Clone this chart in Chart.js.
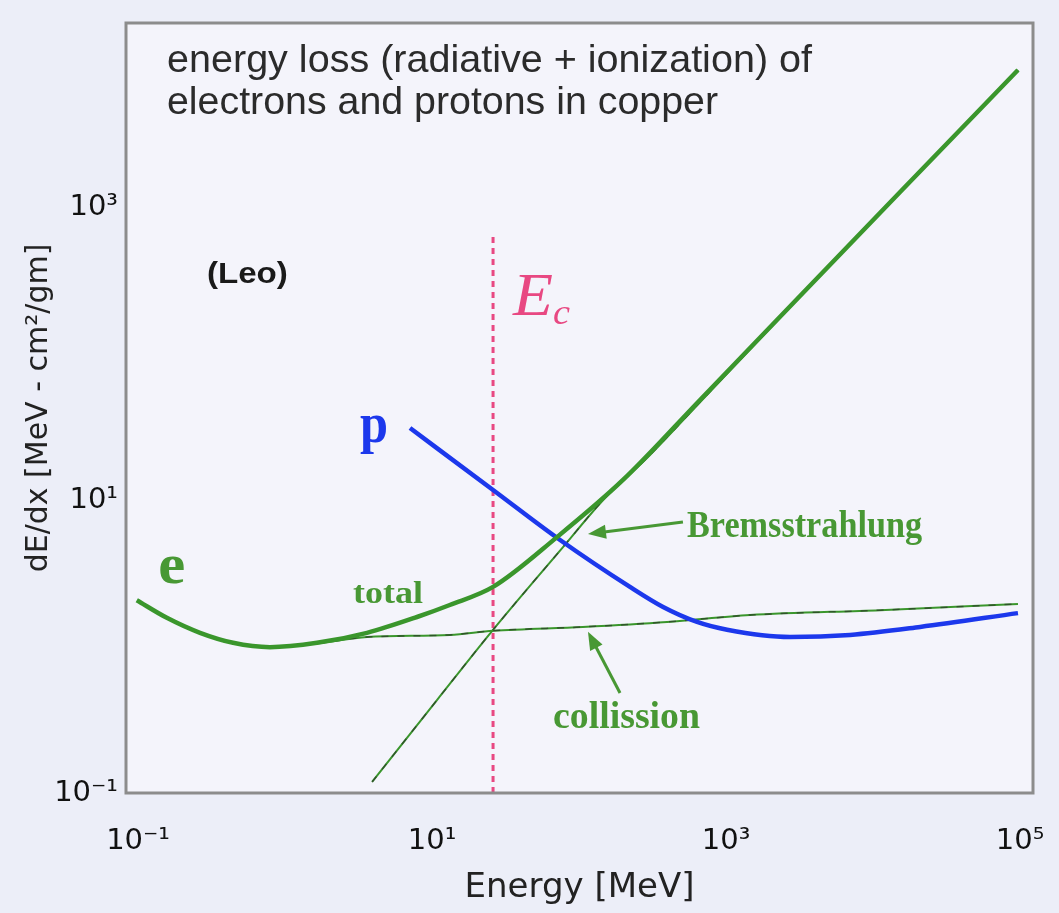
<!DOCTYPE html>
<html>
<head>
<meta charset="utf-8">
<script src="https://cdn.jsdelivr.net/npm/chart.js@4.4.1/dist/chart.umd.min.js"></script>
<style>
  body { margin: 0; background: #eceef8; }
  canvas { display: block; }
</style>
</head>
<body>
<canvas id="lossChart" width="1059" height="913"></canvas>
<script>
// energy values in MeV, dE/dx in MeV cm2/g
const eTotalE = [0.098, 0.157, 0.264, 0.443, 0.79, 1.65, 3.61, 7.9, 13.2, 26, 70.8, 199, 665, 3185, 15280, 96800];
const eTotal = [2.07, 1.57, 1.24, 1.06, 0.99, 1.06, 1.24, 1.59, 1.92, 2.55, 5.58, 13.7, 48.2, 247, 1265, 8610];

const collE = [0.79, 1.65, 3.61, 13.2, 26, 106, 397, 1455, 11170, 96800];
const coll = [0.99, 1.05, 1.16, 1.20, 1.28, 1.36, 1.47, 1.64, 1.77, 1.95];

const bremE = [3.91, 10.8, 26, 77.8, 146, 304, 665, 3185, 15280, 96800];
const brem = [0.119, 0.431, 1.30, 4.77, 10.0, 20.3, 46.5, 245, 1263, 8600];

const protE = [7.08, 26, 74.3, 222, 373, 635, 1016, 2723, 6980, 20900, 96800];
const prot = [31.0, 11.7, 5.33, 2.55, 1.86, 1.47, 1.30, 1.16, 1.20, 1.36, 1.69];

// critical energy line
const ecEnergy = 26;
const ecRange = [0.1, 675];

const xTicks = [0.1, 10, 1000, 100000];
const xTickLabels = ['10⁻¹', '10¹', '10³', '10⁵'];
const yTicks = [0.1, 10, 1000];
const yTickLabels = ['10⁻¹', '10¹', '10³'];

const green = 'rgb(58, 150, 44)';
const textGreen = 'rgb(72, 152, 52)';
const blue = 'rgb(28, 56, 236)';
const pink = 'rgb(232, 72, 130)';

function pts(xs, ys) {
    return xs.map((x, i) => ({ x: x, y: ys[i] }));
}

// labels placed in data coords
const notes = [
    { text: '(Leo)', x: 0.294, y: 303, font: 'bold 30px "Liberation Sans"', color: '#1a1a1a', width: 81 },
    { text: 'p', x: 3.24, y: 24.9, font: 'bold 56px "Liberation Serif"', color: blue, width: 28 },
    { text: 'e', x: 0.137, y: 2.71, font: 'bold 56px "Liberation Serif"', color: textGreen, width: 27 },
    { text: 'total', x: 2.90, y: 1.98, font: 'bold 32px "Liberation Serif"', color: textGreen, width: 70 },
    { text: 'Bremsstrahlung', x: 543, y: 5.58, font: 'bold 38px "Liberation Serif"', color: textGreen, width: 235 },
    { text: 'collission', x: 66.5, y: 0.278, font: 'bold 38px "Liberation Serif"', color: textGreen, width: 147 },
    { text: 'E', x: 35.6, y: 183, font: 'italic 62px "Liberation Serif"', color: pink, width: 40 },
    { text: 'c', x: 66.5, y: 159, font: 'italic 36px "Liberation Serif"', color: pink, width: 17 }
];

const arrows = [
    { from: [509, 7.08], to: [115, 5.86] },
    { from: [190, 0.482], to: [115, 1.26] }
];

const titleLines = ['energy loss (radiative + ionization) of', 'electrons and protons in copper'];

function drawText(ctx, n, x, y) {
    ctx.save();
    ctx.font = n.font;
    ctx.fillStyle = n.color;
    ctx.textAlign = 'left';
    ctx.textBaseline = 'alphabetic';
    const w = ctx.measureText(n.text).width;
    const sx = n.width ? n.width / w : 1;
    ctx.translate(x, y);
    ctx.scale(sx, 1);
    ctx.fillText(n.text, 0, 0);
    ctx.restore();
}

const framePlugin = {
    id: 'frame',
    beforeDraw(chart) {
        const { ctx, chartArea: a } = chart;
        ctx.save();
        ctx.fillStyle = '#f4f4fb';
        ctx.fillRect(a.left, a.top, a.right - a.left, a.bottom - a.top);
        ctx.restore();
    },
    afterDatasetsDraw(chart) {
        const { ctx, chartArea: a, scales } = chart;
        // arrows
        ctx.save();
        ctx.strokeStyle = textGreen;
        ctx.fillStyle = textGreen;
        ctx.lineWidth = 3;
        arrows.forEach(ar => {
            const x1 = scales.x.getPixelForValue(ar.from[0]);
            const y1 = scales.y.getPixelForValue(ar.from[1]);
            const x2 = scales.x.getPixelForValue(ar.to[0]);
            const y2 = scales.y.getPixelForValue(ar.to[1]);
            const ang = Math.atan2(y2 - y1, x2 - x1);
            const hl = 18, hw = 7;
            ctx.beginPath();
            ctx.moveTo(x1, y1);
            ctx.lineTo(x2 - Math.cos(ang) * hl * 0.8, y2 - Math.sin(ang) * hl * 0.8);
            ctx.stroke();
            ctx.beginPath();
            ctx.moveTo(x2, y2);
            ctx.lineTo(x2 - Math.cos(ang) * hl - Math.sin(ang) * hw, y2 - Math.sin(ang) * hl + Math.cos(ang) * hw);
            ctx.lineTo(x2 - Math.cos(ang) * hl + Math.sin(ang) * hw, y2 - Math.sin(ang) * hl - Math.cos(ang) * hw);
            ctx.closePath();
            ctx.fill();
        });
        ctx.restore();

        notes.forEach(n => {
            drawText(ctx, n, scales.x.getPixelForValue(n.x), scales.y.getPixelForValue(n.y));
        });

        // title text in upper left of plot box
        drawText(ctx, { text: titleLines[0], font: '39px "Liberation Sans"', color: '#2b2b2b', width: 645 }, a.left + 41, a.top + 49);
        drawText(ctx, { text: titleLines[1], font: '39px "Liberation Sans"', color: '#2b2b2b', width: 551 }, a.left + 41, a.top + 91);

        // box
        ctx.save();
        ctx.strokeStyle = '#8c8c8c';
        ctx.lineWidth = 3;
        ctx.strokeRect(a.left, a.top, a.right - a.left, a.bottom - a.top);
        ctx.restore();
    }
};

const ctx = document.getElementById('lossChart').getContext('2d');
const lossChart = new Chart(ctx, {
    type: 'line',
    data: {
        datasets: [
            {
                label: 'electron total',
                data: pts(eTotalE, eTotal),
                borderColor: green,
                borderWidth: 4.5,
                cubicInterpolationMode: 'monotone'
            },
            {
                label: 'proton',
                data: pts(protE, prot),
                borderColor: blue,
                borderWidth: 4.5,
                cubicInterpolationMode: 'monotone'
            },
            {
                label: 'collision dash',
                data: pts(collE, coll),
                borderColor: 'rgba(40, 40, 40, 0.6)',
                borderWidth: 1.5,
                borderDash: [7, 9],
                cubicInterpolationMode: 'monotone'
            },
            {
                label: 'collision',
                data: pts(collE, coll),
                borderColor: green,
                borderWidth: 2,
                cubicInterpolationMode: 'monotone'
            },
            {
                label: 'bremsstrahlung dash',
                data: pts(bremE, brem),
                borderColor: 'rgba(40, 40, 40, 0.6)',
                borderWidth: 1.5,
                borderDash: [7, 9],
                cubicInterpolationMode: 'monotone'
            },
            {
                label: 'bremsstrahlung',
                data: pts(bremE, brem),
                borderColor: green,
                borderWidth: 2,
                cubicInterpolationMode: 'monotone'
            },
            {
                label: 'Ec',
                data: pts([ecEnergy, ecEnergy], ecRange),
                borderColor: pink,
                borderWidth: 3,
                borderDash: [6, 5]
            }
        ]
    },
    options: {
        responsive: false,
        animation: false,
        layout: { padding: { top: 23, right: 26, left: 0, bottom: 0 } },
        elements: { point: { radius: 0 } },
        plugins: {
            legend: { display: false },
            tooltip: { enabled: false }
        },
        scales: {
            x: {
                type: 'logarithmic',
                min: 0.0828,
                max: 122500,
                grid: { display: false, drawTicks: false },
                border: { display: false },
                afterBuildTicks: (axis) => { axis.ticks = xTicks.map(v => ({ value: v })); },
                afterFit: (scale) => {
                    scale.height = 120;
                    scale.paddingLeft = 0;
                    scale.paddingRight = 0;
                },
                ticks: {
                    autoSkip: false,
                    maxRotation: 0,
                    padding: 31,
                    color: '#111',
                    font: { family: 'DejaVu Sans', size: 29 },
                    callback: (value) => xTickLabels[xTicks.indexOf(value)]
                },
                title: {
                    display: true,
                    text: 'Energy [MeV]',
                    color: '#222',
                    font: { family: 'DejaVu Sans', size: 34, lineHeight: 1 },
                    padding: { top: 0, bottom: 8 }
                }
            },
            y: {
                type: 'logarithmic',
                min: 0.1,
                max: 18030,
                grid: { display: false, drawTicks: false },
                border: { display: false },
                afterBuildTicks: (axis) => { axis.ticks = yTicks.map(v => ({ value: v })); },
                afterFit: (scale) => {
                    scale.width = 126;
                    scale.paddingTop = 0;
                    scale.paddingBottom = 0;
                },
                ticks: {
                    autoSkip: false,
                    padding: 8,
                    color: '#111',
                    font: { family: 'DejaVu Sans', size: 29 },
                    callback: (value) => yTickLabels[yTicks.indexOf(value)]
                },
                title: {
                    display: true,
                    text: 'dE/dx [MeV - cm²/gm]',
                    color: '#222',
                    font: { family: 'DejaVu Sans', size: 30, lineHeight: 1 },
                    padding: { top: 24, bottom: 0 }
                }
            }
        }
    },
    plugins: [framePlugin]
});
</script>
</body>
</html>
